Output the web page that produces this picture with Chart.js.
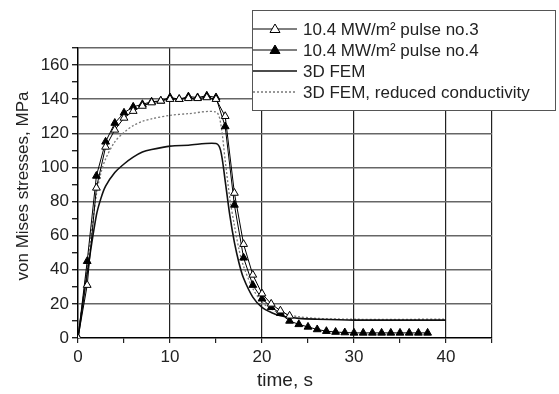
<!DOCTYPE html>
<html>
<head>
<meta charset="utf-8">
<script src="https://cdn.jsdelivr.net/npm/chart.js@4"></script>
<style>
  body { margin: 0; background: #fff; }
</style>
</head>
<body>
<canvas id="stressChart" width="559" height="394"></canvas>
<script>
// measured pulses (one point per second)
const timePulse3 = [0, 1, 2, 3, 4, 5, 6, 7, 8, 9, 10, 11, 12, 13, 14, 15, 16, 17, 18, 19, 20, 21, 22, 23];
const pulse3 = [0, 31, 88, 112, 122, 129, 133, 136, 138, 139, 140, 140, 140.5, 140.5, 141, 140, 130, 85, 55, 37, 26, 20, 16, 13];

const timePulse4 = [0, 1, 2, 3, 4, 5, 6, 7, 8, 9, 10, 11, 12, 13, 14, 15, 16, 17, 18, 19,
  20, 21, 22, 23, 24, 25, 26, 27, 28, 29, 30, 31, 32, 33, 34, 35, 36, 37, 38];
const pulse4 = [0, 45, 95, 115, 126, 132, 135.5, 137, 138.5, 139, 141, 140, 141.5, 141, 142, 141, 124, 78, 47, 31,
  23, 18, 14.5, 10, 8, 6.5, 5, 4, 3.5, 3.2, 3, 3, 3, 3, 3, 3, 3, 3, 3];

// simulations
const timeFem = [0, 1, 2, 2.5, 3, 4, 5, 6, 7, 8, 10, 12, 15, 15.5, 16, 16.5, 17, 17.5, 18, 19, 20, 21, 22, 24, 26, 30, 40];
const fem3d = [0, 38, 72, 82, 89, 97, 102, 106, 109, 110.5, 112.5, 113, 114, 110, 92, 72, 56, 44, 35, 24, 18, 15, 13, 11.5, 11, 10.5, 10.5];
const femReduced = [0, 42, 84, 97, 105, 115, 120.5, 124.5, 127, 128.5, 130.5, 131.5, 132.5, 126, 104, 82, 66, 52, 42, 29, 21, 17, 14.5, 12.5, 11.5, 11, 11];

const yTicks = [0, 20, 40, 60, 80, 100, 120, 140, 160];
const xTicks = [0, 10, 20, 30, 40];

const seriesLabels = [
  "10.4 MW/m\u00b2 pulse no.3",
  "10.4 MW/m\u00b2 pulse no.4",
  "3D FEM",
  "3D FEM, reduced conductivity",
];
const yTitle = "von Mises stresses, MPa";

const pts = (xs, ys) => xs.map((x, i) => ({ x: x, y: ys[i] }));

const ctx = document.getElementById("stressChart").getContext("2d");

// legend box drawn over the plot, like the original, plus the y title
const boxLegend = {
  id: "boxLegend",
  afterDraw(chart) {
    const c = chart.ctx;
    const left = 252, top = 10, right = 556, bottom = 111;
    c.save();
    c.fillStyle = "#fff";
    c.fillRect(left, top, right - left, bottom - top);
    c.strokeStyle = "#555";
    c.lineWidth = 1;
    c.strokeRect(left + 0.5, top + 0.5, right - left - 1, bottom - top - 1);
    c.font = "17px 'Liberation Sans', Arial, sans-serif";
    c.textBaseline = "middle";
    chart.data.datasets.forEach((ds, i) => {
      const y = 29 + i * 21;
      c.strokeStyle = ds.borderColor;
      c.lineWidth = ds.borderWidth;
      c.setLineDash(ds.borderDash || []);
      c.beginPath();
      c.moveTo(253, y);
      c.lineTo(297, y);
      c.stroke();
      c.setLineDash([]);
      if (ds.pointRadius > 0) {
        const r = 5;
        c.beginPath();
        c.moveTo(275, y - r);
        c.lineTo(275 + r, y + r * 0.7);
        c.lineTo(275 - r, y + r * 0.7);
        c.closePath();
        c.fillStyle = ds.pointBackgroundColor;
        c.fill();
        c.lineWidth = 1;
        c.strokeStyle = "#000";
        c.stroke();
      }
      c.fillStyle = "#222";
      c.fillText(ds.label, 303, y + 1);
    });

    // y axis title
    c.translate(23, 186);
    c.rotate(-Math.PI / 2);
    c.textAlign = "center";
    c.fillStyle = "#222";
    c.fillText(yTitle, 0, 0);
    c.restore();
  },
};

new Chart(ctx, {
  type: "scatter",
  data: {
    datasets: [
      {
        label: seriesLabels[0],
        data: pts(timePulse3, pulse3),
        showLine: true,
        borderColor: "#000",
        borderWidth: 1,
        pointStyle: "triangle",
        pointRadius: 4.5,
        pointBackgroundColor: "#fff",
        pointBorderColor: "#000",
        pointBorderWidth: 1,
      },
      {
        label: seriesLabels[1],
        data: pts(timePulse4, pulse4),
        showLine: true,
        borderColor: "#000",
        borderWidth: 1,
        pointStyle: "triangle",
        pointRadius: 4.5,
        pointBackgroundColor: "#000",
        pointBorderColor: "#000",
        pointBorderWidth: 1,
      },
      {
        label: seriesLabels[2],
        data: pts(timeFem, fem3d),
        showLine: true,
        borderColor: "#111",
        borderWidth: 1.6,
        pointRadius: 0,
        tension: 0.3,
      },
      {
        label: seriesLabels[3],
        data: pts(timeFem, femReduced),
        showLine: true,
        borderColor: "#777",
        borderWidth: 1.3,
        borderDash: [2, 2],
        pointRadius: 0,
        tension: 0.3,
      },
    ],
  },
  options: {
    responsive: false,
    animation: false,
    layout: { padding: { left: 0, top: 48, right: 67, bottom: 0 } },
    plugins: {
      legend: { display: false },
      tooltip: { enabled: false },
    },
    scales: {
      x: {
        type: "linear",
        min: 0,
        max: 45,
        afterFit: (scale) => { scale.height = 56; },
        afterBuildTicks: (scale) => {
          scale.ticks = [0, 5, 10, 15, 20, 25, 30, 35, 40, 45].map((v) => ({ value: v }));
        },
        ticks: {
          color: "#222",
          font: { family: "'Liberation Sans', Arial", size: 17 },
          padding: 4,
          maxRotation: 0,
          autoSkip: false,
          callback: (v) => (xTicks.includes(v) ? String(v) : ""),
        },
        grid: {
          color: (c) => (c.tick && (xTicks.includes(c.tick.value) && c.tick.value !== 0 || c.tick.value === 45) ? "#222" : "transparent"),
          tickColor: "#222",
          tickLength: 5,
          lineWidth: 1.2,
        },
        border: { color: "#000", width: 1.5 },
        title: {
          display: true,
          text: "time, s",
          color: "#222",
          font: { family: "'Liberation Sans', Arial", size: 19 },
          padding: { top: 0, bottom: 2 },
        },
      },
      y: {
        min: 0,
        max: 170,
        afterFit: (scale) => { scale.width = 78; },
        afterBuildTicks: (scale) => {
          const t = [];
          for (let v = 0; v <= 170; v += 10) t.push({ value: v });
          scale.ticks = t;
        },
        ticks: {
          color: "#222",
          font: { family: "'Liberation Sans', Arial", size: 17 },
          padding: 3,
          autoSkip: false,
          callback: (v) => (yTicks.includes(v) ? String(v) : ""),
        },
        grid: {
          color: (c) => (c.tick && (yTicks.includes(c.tick.value) && c.tick.value !== 0 || c.tick.value === 170) ? "#666" : "transparent"),
          tickColor: "#222",
          tickLength: 6,
          lineWidth: 1.4,
        },
        border: { color: "#000", width: 1.5 },
        title: { display: false },
      },
    },
  },
  plugins: [boxLegend],
});
</script>
</body>
</html>
